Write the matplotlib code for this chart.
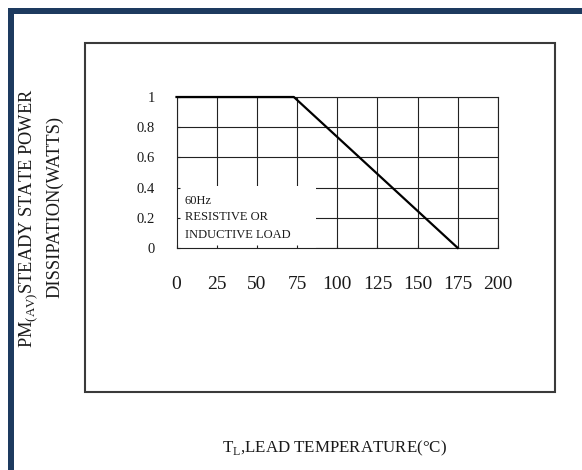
import matplotlib
matplotlib.use("Agg")
import matplotlib.pyplot as plt
from matplotlib.patches import Rectangle

# ---- data ----
temp = [0, 73, 175]
power = [1.0, 1.0, 0.0]
x_ticks = [0, 25, 50, 75, 100, 125, 150, 175, 200]
x_tick_labels = ["0", "25", "50", "75", "100", "125", "150", "175", "200"]
y_ticks = [0, 0.2, 0.4, 0.6, 0.8, 1.0]
y_tick_labels = ["0", "0.2", "0.4", "0.6", "0.8", "1"]
note_lines = ["60Hz", "RESISTIVE OR", "INDUCTIVE LOAD"]
x_label = r"T$_{\mathregular{L}}$,LEAD TEMPERATURE(°C)"
y_label_1 = r"PM$_{\mathregular{(AV)}}$STEADY STATE POWER"
y_label_2 = "DISSIPATION(WATTS)"

plt.rcParams["font.family"] = ["Liberation Serif", "DejaVu Serif"]
plt.rcParams["mathtext.fontset"] = "custom"
plt.rcParams["mathtext.rm"] = "Liberation Serif"

W, H = 582, 470
fig = plt.figure(figsize=(W / 100, H / 100), dpi=100)
fig.patch.set_facecolor("white")

navy = "#1d3a5f"
txt = "#1a1a1a"

def fx(px):
    return px / W

def fy(py):
    return 1 - py / H

# navy frame bands (top and left)
fig.add_artist(Rectangle((fx(8), fy(14)), 1 - fx(8), (14 - 8) / H,
                         transform=fig.transFigure, color=navy, lw=0))
fig.add_artist(Rectangle((fx(8), 0), 6 / W, fy(8),
                         transform=fig.transFigure, color=navy, lw=0))

# outer box
fig.add_artist(Rectangle((fx(85), fy(392)), (555 - 85) / W, (392 - 43) / H,
                         transform=fig.transFigure, fill=False,
                         edgecolor="#3a3a3a", lw=1.5))

# plot axes
ax = fig.add_axes([fx(176.5), fy(248), (498 - 176.5) / W, (248 - 97) / H])
ax.set_facecolor("white")
ax.set_xlim(x_ticks[0], x_ticks[-1])
ax.set_ylim(y_ticks[0], y_ticks[-1])

for xv in x_ticks:
    ax.axvline(xv, color="#222222", lw=0.8, zorder=1)
for yv in y_ticks:
    ax.axhline(yv, color="#222222", lw=0.8, zorder=1)

# white note area
ax.add_patch(Rectangle((0, 0), 87, 0.41, facecolor="white", edgecolor="none", zorder=2))

ax.plot(temp, power, color="black", lw=1.6, zorder=4, clip_on=False)

for s in ax.spines.values():
    s.set_color("#222222")
    s.set_linewidth(0.8)
    s.set_zorder(3)

ax.set_axisbelow(False)
ax.set_xticks(x_ticks)
ax.set_xticklabels(x_tick_labels, fontsize=14, color=txt)
ax.set_yticks(y_ticks)
ax.set_yticklabels(y_tick_labels, fontsize=10.5, color=txt)
ax.tick_params(axis="x", direction="in", length=2.5, width=0.8, color="#222222", pad=20)
ax.tick_params(axis="y", direction="in", length=2.5, width=0.8, color="#222222", pad=15.5)

note_y = [0.311, 0.202, 0.086]
for line, yy in zip(note_lines, note_y):
    ax.text(0.026, yy, line, transform=ax.transAxes, fontsize=9, color=txt,
            ha="left", va="center", zorder=5)

fig.text(fx(334), fy(448), x_label, fontsize=12.2, color=txt, ha="center", va="center")
fig.text(fx(28.5), fy(218), y_label_1, fontsize=13.2, color=txt, rotation=90,
         ha="center", va="center")
fig.text(fx(55), fy(207), y_label_2, fontsize=13.2, color=txt, rotation=90,
         ha="center", va="center")

fig.savefig("out.png", dpi=100, facecolor="white")
